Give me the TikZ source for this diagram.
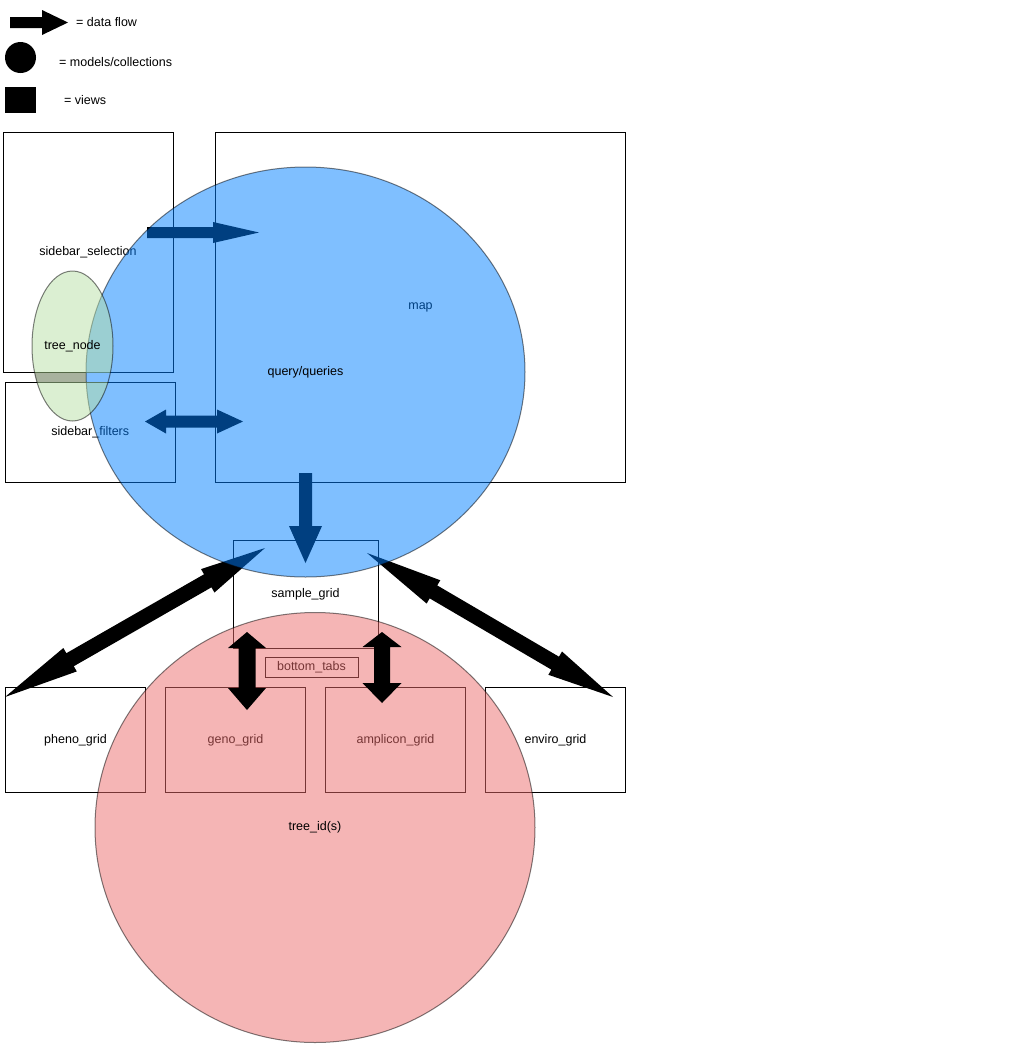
\documentclass[tikz,border=0pt]{standalone}
\usepackage{fontspec}
\setmainfont{Liberation Sans}
\usetikzlibrary{calc,shapes.geometric}
\definecolor{bluefill}{HTML}{007FFF}
\definecolor{pinkfill}{HTML}{EB6B6B}
\definecolor{greenfill}{HTML}{B7DFA5}
\definecolor{bandfill}{HTML}{51653D}
% single fat arrow: #1 start, #2 tip, #3 body half width, #4 head half width, #5 head length
\newcommand{\fatarrow}[5]{%
  \coordinate (#1-h) at ($(#2)!#5!(#1)$);
  \fill[flowfill] ($(#1)!#3!90:(#2)$) -- ($(#1-h)!#3!90:(#2)$) -- ($(#1-h)!#4!90:(#2)$) -- (#2)
    -- ($(#1-h)!#4!-90:(#2)$) -- ($(#1-h)!#3!-90:(#2)$) -- ($(#1)!#3!-90:(#2)$) -- cycle;}
% double fat arrow: #1 end A, #2 end B, #3 body half, #4 head half, #5 head length at A, #6 head length at B
\newcommand{\fatdarrow}[6]{%
  \coordinate (#1-h) at ($(#1)!#5!(#2)$);
  \coordinate (#2-h) at ($(#2)!#6!(#1)$);
  \fill[flowfill] (#1) -- ($(#1-h)!#4!90:(#2)$) -- ($(#1-h)!#3!90:(#2)$) -- ($(#2-h)!#3!90:(#2)$)
    -- ($(#2-h)!#4!90:(#2)$) -- (#2) -- ($(#2-h)!#4!-90:(#2)$) -- ($(#2-h)!#3!-90:(#2)$)
    -- ($(#1-h)!#3!-90:(#2)$) -- ($(#1-h)!#4!-90:(#2)$) -- cycle;}
\begin{document}
\begin{tikzpicture}[x=1pt,y=-1pt,
  every node/.style={font=\fontsize{12.5}{15}\selectfont},
  view/.style={draw=black, line width=1pt, inner sep=0pt},
  legtext/.style={anchor=west, inner sep=0pt},
  flowfill/.style={fill=black},
  model/.style={ellipse, inner sep=0pt, draw=black, line width=1pt,
    fill opacity=0.5, draw opacity=0.5, text opacity=1},
]
\useasboundingbox (0,0) rectangle (1017,1047);

% legend
\coordinate (legA) at (10,22.5);
\coordinate (legB) at (68,22.5);
\fatarrow{legA}{legB}{5.5pt}{12.5pt}{26pt}
\node[legtext] (legflow) at (76,22) {= data flow};
\node[circle, fill=black, minimum size=31pt, inner sep=0pt] (legmodel) at (20.5,57.5) {};
\node[legtext] (legmodeltxt) at (59,62) {= models/collections};
\node[fill=black, minimum width=31pt, minimum height=26pt, inner sep=0pt] (legview) at (20.5,100) {};
\node[legtext] (legviewtxt) at (64,100) {= views};

% views
\node[view, minimum width=170pt, minimum height=240pt] (sidesel) at (88,252) {sidebar\_selection};
\node[view, minimum width=169.5pt, minimum height=100pt] (sidefilt) at (90.25,432) {sidebar\_filters};
\node[view, minimum width=410pt, minimum height=350pt] (map) at (420.5,307) {map};
\node[view, minimum width=145pt, minimum height=108pt] (samplegrid) at (305.5,594) {sample\_grid};
\node[view, minimum width=93pt, minimum height=20pt] (bottomtabs) at (311.5,667) {bottom\_tabs};
\node[view, minimum width=140pt, minimum height=105pt] (pheno) at (75.5,740) {pheno\_grid};
\node[view, minimum width=140pt, minimum height=105pt] (geno) at (235.5,740) {geno\_grid};
\node[view, minimum width=140pt, minimum height=105pt] (amplicon) at (395.5,740) {amplicon\_grid};
\node[view, minimum width=140pt, minimum height=105pt] (enviro) at (555.5,740) {enviro\_grid};

% tree_id(s) model
\node[model, fill=pinkfill, minimum width=440pt, minimum height=430pt] (treeids) at (315,827.5) {tree\_id(s)};

% data flow arrows
\coordinate (f1a) at (147,232.5);
\coordinate (f1b) at (259,232.5);
\fatarrow{f1a}{f1b}{5.5pt}{10.5pt}{46pt}
\coordinate (f2a) at (145,421.5);
\coordinate (f2b) at (243,421.5);
\fatdarrow{f2a}{f2b}{6pt}{12pt}{21pt}{26pt}
\coordinate (f3a) at (305.5,473);
\coordinate (f3b) at (305.5,563);
\fatarrow{f3a}{f3b}{6.5pt}{16.5pt}{37pt}
\coordinate (f4a) at (5,697);
\coordinate (f4b) at (265,548);
\fatdarrow{f4a}{f4b}{7.5pt}{13.5pt}{75pt}{66pt}
\coordinate (f5a) at (367,553);
\coordinate (f5b) at (613,697);
\fatdarrow{f5a}{f5b}{7.5pt}{13.5pt}{77pt}{67pt}
\coordinate (f6a) at (247,632);
\coordinate (f6b) at (247,710);
\fatdarrow{f6a}{f6b}{8.5pt}{19pt}{16pt}{22pt}
\coordinate (f7a) at (382,632);
\coordinate (f7b) at (382,703);
\fatdarrow{f7a}{f7b}{8pt}{19.5pt}{15pt}{20pt}

% query/queries model
\node[model, fill=bluefill, minimum width=439pt, minimum height=410pt] (queries) at (305.5,372) {query/queries};

% tree_node model
\begin{scope}
  \clip (0,0) rectangle (200,372);
  \fill[greenfill, fill opacity=0.5] (72.5,346) ellipse [x radius=40.5pt, y radius=75pt];
\end{scope}
\begin{scope}
  \clip (0,382) rectangle (200,500);
  \fill[greenfill, fill opacity=0.5] (72.5,346) ellipse [x radius=40.5pt, y radius=75pt];
\end{scope}
\begin{scope}
  \clip (72.5,346) ellipse [x radius=40.5pt, y radius=75pt];
  \clip (0,372) rectangle (200,382);
  \fill[bandfill, fill opacity=0.5, even odd rule] (0,372) rectangle (200,382)
    (305.5,372) ellipse [x radius=219.5pt, y radius=205pt];
\end{scope}
\node[ellipse, draw=black, draw opacity=0.5, line width=1pt, minimum width=81pt,
  minimum height=150pt, inner sep=0pt] (treenode) at (72.5,346) {tree\_node};
\end{tikzpicture}
\end{document}
